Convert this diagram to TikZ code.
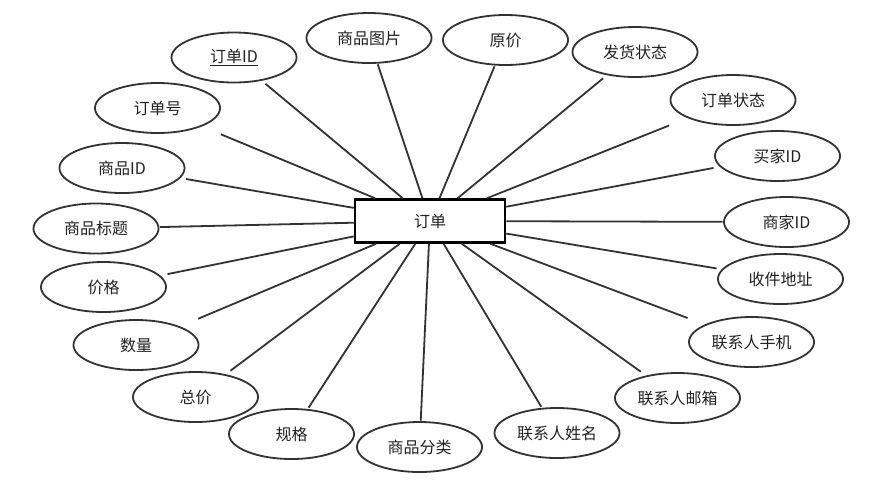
\documentclass[tikz,border=0pt]{standalone}
\usepackage{fontspec}
\setmainfont{Noto Sans CJK SC}
\begin{document}
\begin{tikzpicture}[x=0.75pt,y=-0.75pt,
  attr/.style={rectangle, minimum width=95.5pt, minimum height=39pt, inner sep=0pt,
    font=\fontsize{12}{14}\selectfont, text=black!87,
    path picture={\draw[line width=1.35pt, draw=black!80]
      (path picture bounding box.center) ellipse [x radius=46.9pt, y radius=18.75pt];}},
  entity/.style={rectangle, draw=black, line width=1.9pt, fill=white,
    minimum width=112.5pt, minimum height=32.25pt, inner sep=0pt,
    font=\fontsize{12}{14}\selectfont, text=black!87},
  link/.style={line width=1.35pt, draw=black!80}]
\useasboundingbox (0,0) rectangle (892,487);

\node[attr] (tp) at (369,38) {商品图片};
\node[attr] (oid) at (234,57.5) {\underline{订单ID}};
\node[attr] (ono) at (157.5,108) {订单号};
\node[attr] (gid) at (122,168) {商品ID};
\node[attr] (gtitle) at (96,228.5) {商品标题};
\node[attr] (price) at (103.5,287) {价格};
\node[attr] (qty) at (136,345) {数量};
\node[attr] (total) at (195.5,397) {总价};
\node[attr] (spec) at (291.5,434) {规格};
\node[attr] (cat) at (419.5,447) {商品分类};
\node[attr] (cname) at (557,433) {联系人姓名};
\node[attr] (cmail) at (677.5,398) {联系人邮箱};
\node[attr] (cphone) at (751.5,342) {联系人手机};
\node[attr] (addr) at (780.5,279) {收件地址};
\node[attr] (sid) at (786.5,222) {商家ID};
\node[attr] (bid) at (777.5,156) {买家ID};
\node[attr] (ostate) at (733,100) {订单状态};
\node[attr] (sstate) at (635,52) {发货状态};
\node[attr] (oprice) at (505.5,40) {原价};

\node[entity] (order) at (430,221) {订单};

\foreach \a in {tp,oid,ono,gid,gtitle,price,qty,total,spec,cat,cname,cmail,cphone,addr,sid,bid,ostate,sstate,oprice}
  \draw[link] (order) -- (\a);
\end{tikzpicture}
\end{document}
